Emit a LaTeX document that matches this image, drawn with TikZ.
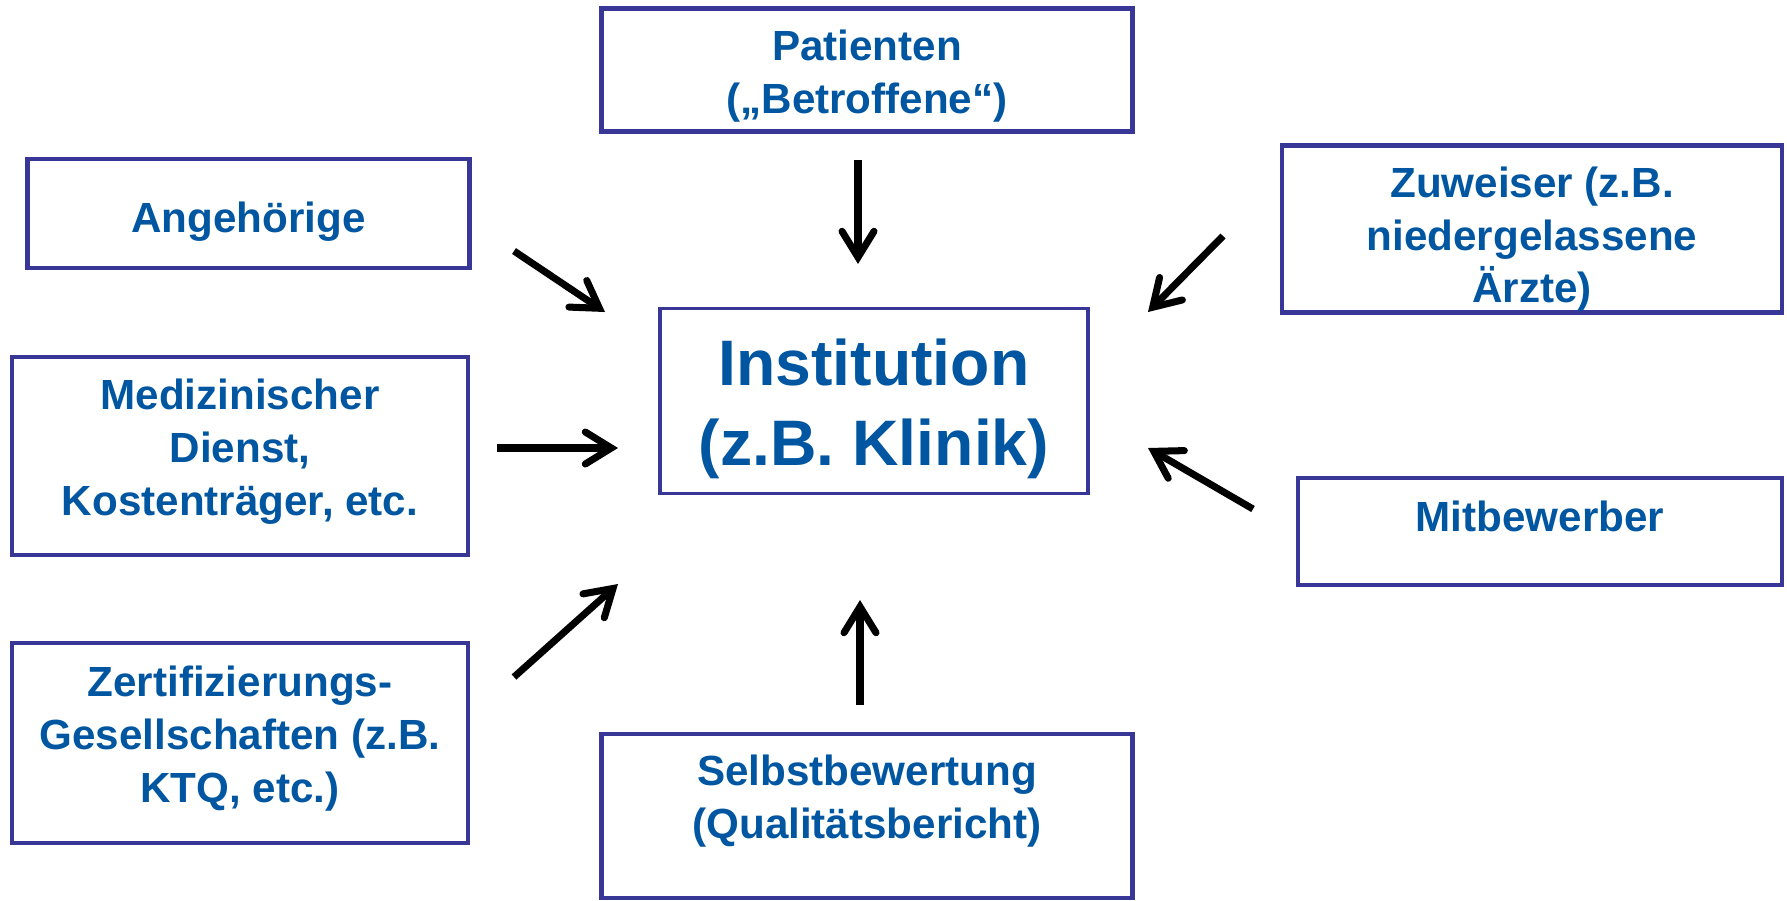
\documentclass[tikz,border=0pt]{standalone}
\usepackage{fontspec}
\setmainfont{Liberation Sans}
\usepackage{xcolor}
\usepackage{tikz}
\usetikzlibrary{arrows.meta}
\definecolor{klinikblue}{RGB}{0,86,160}
\definecolor{frameviolet}{RGB}{56,54,150}

\begin{document}
\begin{tikzpicture}[x=1cm,y=1cm,
  party/.style={draw=frameviolet, line width=1.15pt, fill=white, inner sep=0pt, align=center,
    text=klinikblue, font=\bfseries\fontsize{12}{15}\selectfont},
  klinik/.style={party, line width=1pt, font=\bfseries\fontsize{18.3}{22.8}\selectfont},
  arr/.style={line width=2pt, -{Straight Barb[length=2.6mm,width=3.2mm,line cap=round]}}]
  \useasboundingbox (0,0) rectangle (17.87,-9.00);

  \node[klinik, minimum width=4.28cm, minimum height=1.85cm, text height=40.6pt] (inst) at (8.74,-4.01) {Institution\\(z.B. Klinik)};

  \node[party, minimum width=5.31cm, minimum height=1.23cm, text height=27.2pt] (pat) at (8.67,-0.70) {Patienten\\(„Betroffene“)};
  \node[party, minimum width=4.42cm, minimum height=1.09cm, text height=13.3pt] (ang) at (2.485,-2.135) {Angehörige};
  \node[party, minimum width=4.56cm, minimum height=1.98cm, text depth=5pt] (med) at (2.40,-4.56) {Medizinischer\\Dienst,\\Kostenträger, etc.};
  \node[party, minimum width=4.56cm, minimum height=2.00cm, text depth=5pt] (zert) at (2.40,-7.43) {Zertifizierungs-\\Gesellschaften (z.B.\\KTQ, etc.)};
  \node[party, minimum width=5.31cm, minimum height=1.64cm, text depth=10.8pt] (selbst) at (8.67,-8.16) {Selbstbewertung\\(Qualitätsbericht)};
  \node[party, minimum width=5.00cm, minimum height=1.67cm, text height=44.5pt] (zuw) at (15.32,-2.29) {Zuweiser (z.B.\\niedergelassene\\Ärzte)};
  \node[party, minimum width=4.84cm, minimum height=1.07cm, text height=8.7pt, text depth=8.7pt] (mit) at (15.40,-5.315) {Mitbewerber};

  % free arrows pointing to the institution
  \coordinate (pat-a) at (8.58,-1.60);   \coordinate (pat-b) at (8.58,-2.64);
  \coordinate (ang-a) at (5.14,-2.51);   \coordinate (ang-b) at (6.05,-3.12);
  \coordinate (med-a) at (4.97,-4.48);   \coordinate (med-b) at (6.18,-4.48);
  \coordinate (zert-a) at (5.14,-6.77);  \coordinate (zert-b) at (6.18,-5.84);
  \coordinate (selbst-a) at (8.60,-7.05); \coordinate (selbst-b) at (8.60,-6.00);
  \coordinate (zuw-a) at (12.23,-2.36);  \coordinate (zuw-b) at (11.48,-3.12);
  \coordinate (mit-a) at (12.53,-5.09);  \coordinate (mit-b) at (11.48,-4.48);

  \draw[arr] (pat-a) -- (pat-b);
  \draw[arr] (ang-a) -- (ang-b);
  \draw[arr] (med-a) -- (med-b);
  \draw[arr] (zert-a) -- (zert-b);
  \draw[arr] (selbst-a) -- (selbst-b);
  \draw[arr] (zuw-a) -- (zuw-b);
  \draw[arr] (mit-a) -- (mit-b);
\end{tikzpicture}
\end{document}
